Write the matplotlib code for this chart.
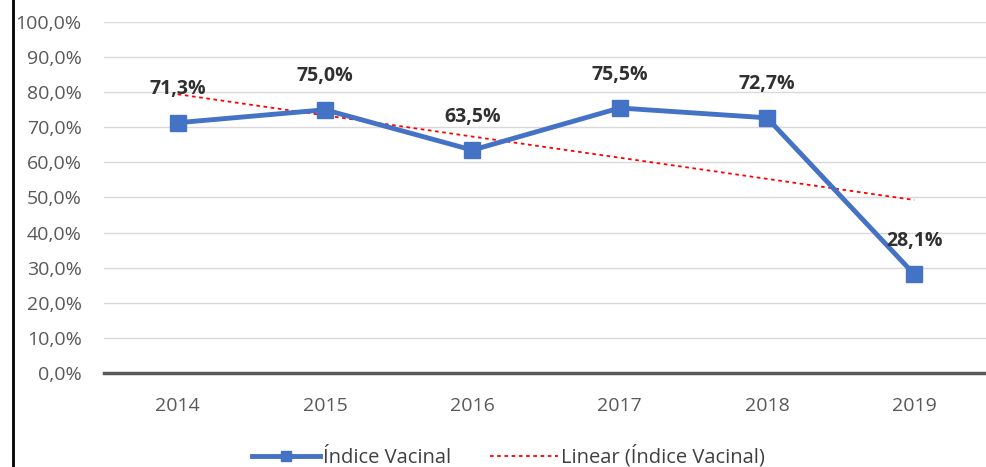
import numpy as np
import matplotlib.pyplot as plt
from matplotlib.lines import Line2D

# data
anos = ['2014', '2015', '2016', '2017', '2018', '2019']
indice = [71.3, 75.0, 63.5, 75.5, 72.7, 28.1]

plt.rcParams['font.family'] = ['Open Sans', 'DejaVu Sans']

fig = plt.figure(figsize=(9.87, 4.67), dpi=100)
ax = fig.add_axes([0.1054, 0.2013, 0.8956, 0.7516])

x = np.arange(len(anos))
# linear trendline like excel
a, b = np.polyfit(x, indice, 1)
ax.plot(x, a * x + b, color='#FF0000', lw=1.3, ls=(0, (2, 2)), zorder=3,
        label='Linear (Índice Vacinal)')
ax.plot(x, indice, color='#4472C4', lw=3.5, marker='s', ms=11, zorder=4,
        label='Índice Vacinal')

for xi, v in zip(x, indice):
    ax.annotate(('%.1f%%' % v).replace('.', ','), (xi, v), xytext=(0, 24),
                textcoords='offset points', ha='center', va='center',
                fontsize=14, fontweight='bold', color='#303030', zorder=5)

ax.set_xlim(-0.5, 5.5)
ax.set_ylim(0, 100)
ax.set_yticks(np.arange(0, 101, 10))
ax.set_yticklabels([('%.1f%%' % t).replace('.', ',') for t in np.arange(0, 101, 10)])
ax.set_xticks(x)
ax.set_xticklabels(anos)
ax.tick_params(axis='both', length=0, labelsize=14, labelcolor='#595959')
ax.tick_params(axis='y', pad=16)
ax.tick_params(axis='x', pad=17)
ax.grid(axis='y', color='#D9D9D9', lw=1)
ax.set_axisbelow(True)
for s in ['top', 'right', 'left']:
    ax.spines[s].set_visible(False)
ax.spines['bottom'].set_color('#595959')
ax.spines['bottom'].set_linewidth(2.5)
ax.spines['bottom'].set_zorder(2)

h, l = ax.get_legend_handles_labels()
fig.legend(h[::-1], l[::-1], loc='center', bbox_to_anchor=(0.515, 0.022), ncol=2,
           frameon=False, fontsize=14.5, handlelength=3.4, columnspacing=1.9,
           labelcolor='#404040', handletextpad=0.15, markerscale=0.7)

# left frame line
fig.add_artist(Line2D([0.0135, 0.0135], [0, 1], transform=fig.transFigure,
                      color='black', lw=2))

fig.savefig('out.png', dpi=100)
